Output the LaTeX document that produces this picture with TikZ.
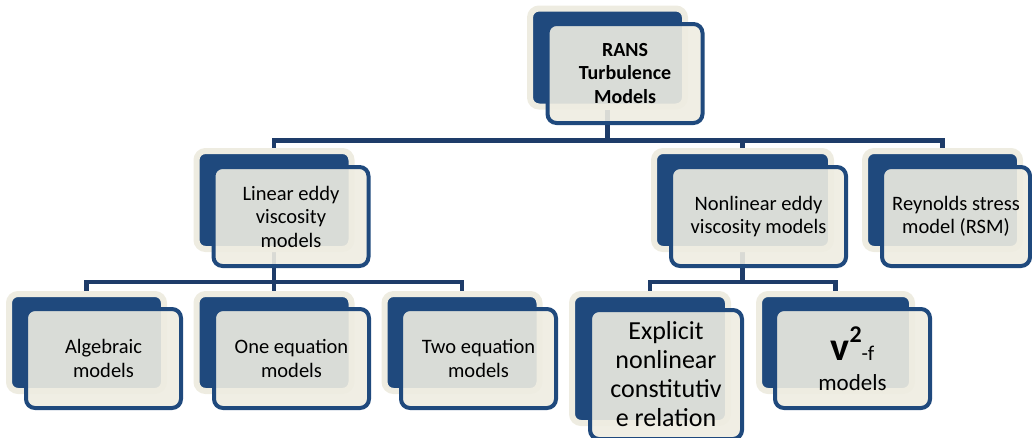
\documentclass[tikz,border=0pt]{standalone}
\usepackage{fontspec}
\setmainfont{Carlito}
\usetikzlibrary{backgrounds}
\definecolor{navy}{RGB}{31,73,125}
\definecolor{linknavy}{RGB}{30,60,105}
\definecolor{cream}{RGB}{238,236,225}

\begin{document}
\begin{tikzpicture}[x=1pt,y=-1pt,
	backbox/.style={rectangle, rounded corners=9pt, draw=cream, line width=6pt, fill=navy,
		minimum width=155pt, minimum height=98pt, inner sep=0pt},
	frontbox/.style={rectangle, rounded corners=9pt, draw=navy, line width=4pt, fill=cream,
		fill opacity=0.9, text opacity=1, minimum width=155pt, minimum height=99pt,
		inner sep=0pt, align=center, font=\fontsize{20.5}{23.5}\selectfont},
	link/.style={draw=linknavy, line width=4.5pt}]
	\useasboundingbox (0,0) rectangle (1032,437);
	% top
	\node (RANSb) at (607.5, 57.5)	[backbox]	{};
	\node (RANS) at (625, 73.5)	[frontbox, font=\fontsize{20}{23.5}\selectfont\bfseries]	{RANS\\Turbulence\\Models};
	% second row
	\node (LINb) at (274, 200)	[backbox]	{};
	\node (LIN) at (291, 216.5)	[frontbox]	{Linear eddy\\viscosity\\models};
	\node (NONb) at (742.5, 200)	[backbox, minimum width=177pt]	{};
	\node (NON) at (758.5, 216.5)	[frontbox, minimum width=175pt]	{Nonlinear eddy\\viscosity models};
	\node (RSMb) at (942.5, 200)	[backbox]	{};
	\node (RSM) at (956, 216.5)	[frontbox, minimum width=148pt]	{Reynolds stress\\model (RSM)};
	% third row
	\node (ALGb) at (86.5, 342.5)	[backbox, minimum height=97pt]	{};
	\node (ALG) at (103.5, 358.5)	[frontbox]	{Algebraic\\models};
	\node (ONEb) at (274, 342.5)	[backbox, minimum height=97pt]	{};
	\node (ONE) at (291.5, 358.5)	[frontbox]	{One equation\\models};
	\node (TWOb) at (462, 342.5)	[backbox, minimum height=97pt]	{};
	\node (TWO) at (478.5, 358.5)	[frontbox]	{Two equation\\models};
	\node (EXPb) at (650, 358.5)	[backbox, minimum width=156pt, minimum height=129pt]	{};
	\node (EXP) at (666, 374.5)	[frontbox, minimum width=152pt, minimum height=129pt,
		font=\fontsize{26}{29}\selectfont]	{Explicit\\nonlinear\\constitutiv\\e relation};
	\node (VTFb) at (835.5, 342.5)	[backbox, minimum width=153pt, minimum height=97pt]	{};
	\node (VTF) at (852.5, 358.5)	[frontbox, font=\fontsize{23}{23.5}\selectfont]	{{\fontsize{40}{40}\selectfont\bfseries v}\raisebox{18pt}{\fontsize{24}{24}\selectfont\bfseries 2}{\fontsize{21}{21}\selectfont-f}\\[6.5pt]models};
	% connectors
	\begin{scope}[on background layer]
		\draw[link] (RANSb.south) -- ++(0,31) -| (LINb.north);
		\draw[link] (RANSb.south) -- ++(0,31) -| (NONb.north);
		\draw[link] (RANSb.south) -- ++(0,31) -| (RSMb.north);
		\draw[link] (LINb.south) -- ++(0,30) -| (ALGb.north);
		\draw[link] (LINb.south) -- ++(0,30) -| (ONEb.north);
		\draw[link] (LINb.south) -- ++(0,30) -| (TWOb.north);
		\draw[link] (NONb.south) -- ++(0,30) -| (EXPb.north);
		\draw[link] (NONb.south) -- ++(0,30) -| (VTFb.north);
	\end{scope}
\end{tikzpicture}
\end{document}
